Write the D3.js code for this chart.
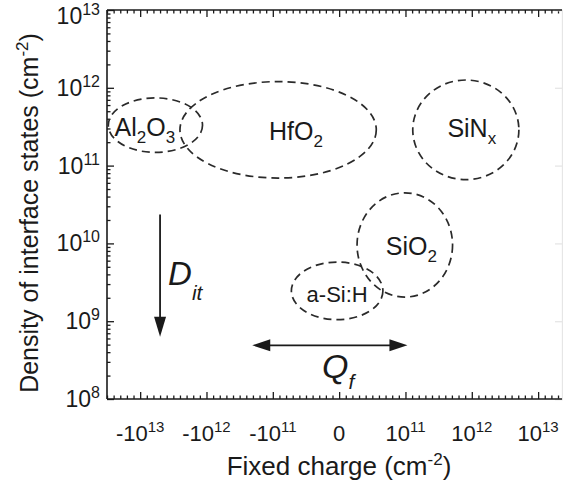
<!DOCTYPE html>
<html>
<head>
<meta charset="utf-8">
<script src="https://cdn.jsdelivr.net/npm/d3@7"></script>
<style>
  html, body { margin: 0; padding: 0; background: #fff; }
  svg { display: block; font-family: "Liberation Sans", Arial, sans-serif; }
</style>
</head>
<body>
<svg id="chart" width="563" height="486"></svg>
<script>
// ---- data ----
// x axis is in "decade index" units: -3 = -10^13, -2 = -10^12, -1 = -10^11, 0, 1 = 10^11, ...
const xTickIdx = [-3, -2, -1, 0, 1, 2, 3];
const xTickBase = ["-10", "-10", "-10", "0", "10", "10", "10"];
const xTickExp = ["13", "12", "11", "", "11", "12", "13"];
const yTickExp = [8, 9, 10, 11, 12, 13];

const materials = ["Al2O3", "HfO2", "SiNx", "SiO2", "a-Si:H"];
const materialParts = [
  [["Al", 0], ["2", 1], ["O", 0], ["3", 1]],
  [["HfO", 0], ["2", 1]],
  [["SiN", 0], ["x", 1]],
  [["SiO", 0], ["2", 1]],
  [["a-Si:H", 0]]
];
const centerX = [-2.77, -0.92, 1.91, 0.99, -0.03];      // decade index
const centerLogY = [11.52, 11.46, 11.46, 9.98, 9.39];    // log10 Dit
const radiusX = [0.71, 1.48, 0.80, 0.72, 0.69];
const radiusLogY = [0.35, 0.62, 0.64, 0.67, 0.37];
const labelX = [-2.93, -0.65, 2.0, 1.09, -0.03];
const labelLogY = [11.38, 11.33, 11.37, 9.85, 9.25];

const ditArrowX = -2.7, ditArrowLogY = [10.37, 8.8];
const qfArrowLogY = 8.69, qfArrowX = [-1.31, 1.03];

// ---- layout ----
const svg = d3.select("#chart");
const x = d3.scaleLinear().domain([-3.5, 3.36]).range([107, 562]);
const y = d3.scaleLog().domain([1e8, 1e13]).range([399, 10]);
const X0 = x.range()[0], X1 = x.range()[1], Y0 = y.range()[0], Y1 = y.range()[1];
const ink = "#1a1a1a";

// minor ticks
const xMinor = d3.range(-35, 34).map(d => d / 10).filter(d => Math.abs(d - Math.round(d)) > 1e-6);
const yMinor = [];
for (let e = 8; e < 13; e++) for (let k = 2; k <= 9; k++) yMinor.push(k * Math.pow(10, e));

const g = svg.append("g");

// bottom axis
g.append("g").attr("transform", `translate(0,${Y0})`)
  .call(d3.axisBottom(x).tickValues(xTickIdx).tickSize(-7).tickFormat(""))
  .call(s => s.select(".domain").remove());
g.append("g").attr("transform", `translate(0,${Y0})`)
  .call(d3.axisBottom(x).tickValues(xMinor).tickSize(-3.5).tickFormat(""))
  .call(s => s.select(".domain").remove());
// top axis
g.append("g").attr("transform", `translate(0,${Y1})`)
  .call(d3.axisTop(x).tickValues(xTickIdx).tickSize(-7).tickFormat(""))
  .call(s => s.select(".domain").remove());
g.append("g").attr("transform", `translate(0,${Y1})`)
  .call(d3.axisTop(x).tickValues(xMinor).tickSize(-3.5).tickFormat(""))
  .call(s => s.select(".domain").remove());
// left axis
g.append("g").attr("transform", `translate(${X0},0)`)
  .call(d3.axisLeft(y).tickValues(yTickExp.map(e => Math.pow(10, e))).tickSize(-7).tickFormat(""))
  .call(s => s.select(".domain").remove());
g.append("g").attr("transform", `translate(${X0},0)`)
  .call(d3.axisLeft(y).tickValues(yMinor).tickSize(-3.5).tickFormat(""))
  .call(s => s.select(".domain").remove());
// right axis (faint)
const gr = g.append("g").attr("class", "faint").attr("transform", `translate(${X1},0)`)
  .call(d3.axisRight(y).tickValues(yTickExp.map(e => Math.pow(10, e))).tickSize(-7).tickFormat(""));
g.selectAll(".tick line").attr("stroke", ink).attr("stroke-width", 1.3);
gr.selectAll(".tick line, .domain").attr("stroke", "#e6e6e6").attr("stroke-width", 1.3);

// frame lines
g.append("line").attr("x1", X0).attr("x2", X1).attr("y1", Y0).attr("y2", Y0).attr("stroke", ink).attr("stroke-width", 1.6);
g.append("line").attr("x1", X0).attr("x2", X1).attr("y1", Y1).attr("y2", Y1).attr("stroke", ink).attr("stroke-width", 1.6);
g.append("line").attr("x1", X0).attr("x2", X0).attr("y1", Y1).attr("y2", Y0).attr("stroke", ink).attr("stroke-width", 1.6);

// x tick labels
const xl = g.append("g").attr("fill", ink).attr("font-size", 22);
xTickIdx.forEach((v, i) => {
  const t = xl.append("text").attr("x", x(v)).attr("y", 441).attr("text-anchor", "middle");
  t.append("tspan").text(xTickBase[i]);
  if (xTickExp[i]) t.append("tspan").attr("dy", -9).attr("font-size", 15).text(xTickExp[i]);
});
// y tick labels
yTickExp.forEach(e => {
  const t = xl.append("text").attr("x", 100).attr("y", Math.max(y(Math.pow(10, e)) + 8, 24))
    .attr("text-anchor", "end").attr("font-size", 23);
  t.append("tspan").text("10");
  t.append("tspan").attr("dy", -9).attr("font-size", 16).text(e);
});

// axis titles
const xt = g.append("text").attr("x", 339).attr("y", 475).attr("text-anchor", "middle")
  .attr("font-size", 26).attr("fill", ink);
xt.append("tspan").text("Fixed charge (cm");
xt.append("tspan").attr("dy", -10).attr("font-size", 17).text("-2");
xt.append("tspan").attr("dy", 10).text(")");

const yt = g.append("text").attr("transform", `translate(38,213) rotate(-90)`).attr("text-anchor", "middle")
  .attr("font-size", 25).attr("fill", ink);
yt.append("tspan").text("Density of interface states (cm");
yt.append("tspan").attr("dy", -10).attr("font-size", 17).text("-2");
yt.append("tspan").attr("dy", 10).text(")");

// ellipses
const eg = g.append("g");
materials.forEach((m, i) => {
  const cx = x(centerX[i]);
  const cy = y(Math.pow(10, centerLogY[i]));
  const rx = x(centerX[i] + radiusX[i]) - cx;
  const ry = y(Math.pow(10, centerLogY[i] - radiusLogY[i])) - cy;
  eg.append("ellipse").attr("cx", cx).attr("cy", cy).attr("rx", rx).attr("ry", ry)
    .attr("fill", "none").attr("stroke", "#2a2a2a").attr("stroke-width", 1.7)
    .attr("stroke-dasharray", "8,5");
});
// labels
materials.forEach((m, i) => {
  const t = eg.append("text").attr("x", x(labelX[i])).attr("y", y(Math.pow(10, labelLogY[i])))
    .attr("text-anchor", "middle").attr("font-size", m === "a-Si:H" ? 22 : 25).attr("fill", ink);
  let shifted = false;
  materialParts[i].forEach(([s, sub]) => {
    const ts = t.append("tspan").text(s);
    if (sub && !shifted) { ts.attr("dy", 7).attr("font-size", 17); shifted = true; }
    else if (!sub && shifted) { ts.attr("dy", -7); shifted = false; }
    else if (sub) ts.attr("font-size", 17);
  });
});

// Dit arrow
const ax = x(ditArrowX), ay0 = y(Math.pow(10, ditArrowLogY[0])), ay1 = y(Math.pow(10, ditArrowLogY[1]));
g.append("line").attr("x1", ax).attr("x2", ax).attr("y1", ay0).attr("y2", ay1 - 18).attr("stroke", ink).attr("stroke-width", 1.8);
g.append("path").attr("d", `M${ax - 6},${ay1 - 20} L${ax + 6},${ay1 - 20} L${ax},${ay1} Z`).attr("fill", ink);
const dt = g.append("text").attr("x", ax + 8).attr("y", 285).attr("font-size", 33).attr("font-style", "italic").attr("fill", ink);
dt.append("tspan").text("D");
dt.append("tspan").attr("dy", 15).attr("font-size", 21).text("it");

// Qf arrow
const qy = y(Math.pow(10, qfArrowLogY)), qx0 = x(qfArrowX[0]), qx1 = x(qfArrowX[1]);
g.append("line").attr("x1", qx0 + 16).attr("x2", qx1 - 16).attr("y1", qy).attr("y2", qy).attr("stroke", ink).attr("stroke-width", 1.8);
g.append("path").attr("d", `M${qx0},${qy} L${qx0 + 18},${qy - 6} L${qx0 + 18},${qy + 6} Z`).attr("fill", ink);
g.append("path").attr("d", `M${qx1},${qy} L${qx1 - 18},${qy - 6} L${qx1 - 18},${qy + 6} Z`).attr("fill", ink);
const qt = g.append("text").attr("x", 322).attr("y", 378).attr("font-size", 34).attr("font-style", "italic").attr("fill", ink);
qt.append("tspan").text("Q");
qt.append("tspan").attr("dy", 11).attr("font-size", 21).text("f");
</script>
</body>
</html>
